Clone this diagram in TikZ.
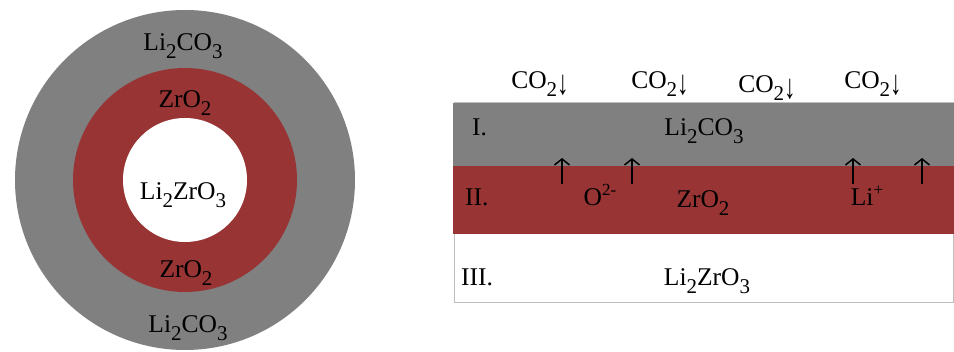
\documentclass[tikz,border=0pt]{standalone}
\usepackage{fontspec}
\usepackage{graphicx}
\setmainfont{Liberation Serif}
\usetikzlibrary{arrows.meta}
\definecolor{shellgray}{RGB}{128,128,128}
\definecolor{brick}{RGB}{152,52,52}
\definecolor{edgegray}{RGB}{190,190,190}
\newcommand\sbx[1]{\raisebox{-0.28em}{\fontsize{21}{21}\selectfont #1}}
\newcommand\spx[1]{\raisebox{0.42em}{\fontsize{17}{17}\selectfont #1}}
\newcommand\dnarr{\raisebox{-0.22em}{\scalebox{0.9}[1.35]{↓}}}
\tikzset{
  lbl/.style={inner sep=0pt, font=\fontsize{25.5}{25.5}\selectfont, text=black, anchor=base},
  upar/.style={line width=1.5pt, -{Straight Barb[length=6pt,width=15pt,line width=1.5pt]}}
}
\begin{document}
\begin{tikzpicture}[x=1pt,y=-1pt]
\useasboundingbox (0,0) rectangle (954,352);
% left: core-shell particle
\fill[shellgray] (185,180) circle[radius=170];
\fill[brick] (185,180) circle[radius=112];
\fill[white] (185,180) circle[radius=62];
\node[lbl] (oT) at (183,51) {Li\sbx{2}CO\sbx{3}};
\node[lbl] (zT) at (185,108) {ZrO\sbx{2}};
\node[lbl] (core) at (183,200) {Li\sbx{2}ZrO\sbx{3}};
\node[lbl] (zB) at (186,278) {ZrO\sbx{2}};
\node[lbl] (oB) at (188,333) {Li\sbx{2}CO\sbx{3}};
% right: layered slab
\draw[edgegray, line width=1pt] (454,103) rectangle (953.5,303);
\fill[shellgray] (453,103) rectangle (954,166);
\fill[brick] (453,166) rectangle (954,234);
\node[lbl] (c1) at (540,89) {CO\sbx{2}\dnarr};
\node[lbl] (c2) at (660,89) {CO\sbx{2}\dnarr};
\node[lbl] (c3) at (767,93) {CO\sbx{2}\dnarr};
\node[lbl] (c4) at (873,89) {CO\sbx{2}\dnarr};
\node[lbl,anchor=base west] (r1) at (472,136) {I.};
\node[lbl] (l1) at (704,136) {Li\sbx{2}CO\sbx{3}};
\node[lbl,anchor=base west] (r2) at (465,206) {II.};
\node[lbl] (oion) at (600,206) {O\spx{2-}};
\node[lbl] (l2) at (703,208) {ZrO\sbx{2}};
\node[lbl] (liion) at (867,206) {Li\spx{+}};
\node[lbl,anchor=base west] (r3) at (461,286) {III.};
\node[lbl] (l3) at (707,286) {Li\sbx{2}ZrO\sbx{3}};
\coordinate (a1s) at (562,184); \coordinate (a1e) at (562,158);
\coordinate (a2s) at (632,184); \coordinate (a2e) at (632,158);
\coordinate (a3s) at (853,184); \coordinate (a3e) at (853,158);
\coordinate (a4s) at (922,184); \coordinate (a4e) at (922,158);
\draw[upar] (a1s) -- (a1e);
\draw[upar] (a2s) -- (a2e);
\draw[upar] (a3s) -- (a3e);
\draw[upar] (a4s) -- (a4e);
\end{tikzpicture}
\end{document}
